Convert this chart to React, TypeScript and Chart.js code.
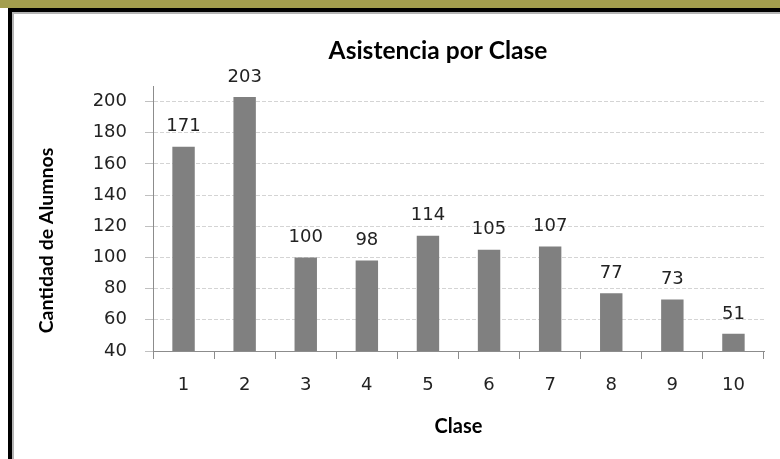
import React, { useEffect, useRef } from "react";
import { Chart, registerables } from "chart.js";

Chart.register(...registerables);

const categories = ["1", "2", "3", "4", "5", "6", "7", "8", "9", "10"];
const attendance = [171, 203, 100, 98, 114, 105, 107, 77, 73, 51];
const yMin = 40;
const yMax = 210;
const yStep = 20;
const chartTitle = "Asistencia por Clase";
const xTitle = "Clase";
const yTitle = "Cantidad de Alumnos";

const valueLabels = {
  id: "valueLabels",
  afterDatasetsDraw(chart: any) {
    const ctx = chart.ctx;
    const ds = chart.data.datasets[0];
    ctx.save();
    ctx.font = "18px 'DejaVu Sans'";
    ctx.fillStyle = "#222222";
    ctx.textAlign = "center";
    ctx.textBaseline = "middle";
    chart.getDatasetMeta(0).data.forEach((bar: any, i: number) => {
      ctx.fillText(String(ds.data[i]), bar.x, bar.y - 20);
    });
    ctx.restore();
  },
};

// Y-axis title, placed like the original (slightly below the plot's centre)
const yAxisTitle = {
  id: "yAxisTitle",
  afterDraw(chart: any) {
    const ctx = chart.ctx;
    const area = chart.chartArea;
    ctx.save();
    ctx.translate(47, area.top + (area.bottom - area.top) / 2 + 22);
    ctx.rotate(-Math.PI / 2);
    ctx.font = "bold 19.5px Lato";
    ctx.fillStyle = "#000000";
    ctx.textAlign = "center";
    ctx.textBaseline = "middle";
    ctx.fillText(yTitle, 0, 0);
    ctx.restore();
  },
};

export default function App() {
  const ref = useRef<HTMLCanvasElement | null>(null);

  useEffect(() => {
    document.body.style.margin = "0";
    const canvas = ref.current;
    if (!canvas) return;
    const chart = new Chart(canvas, {
      type: "bar",
      data: {
        labels: categories,
        datasets: [
          {
            data: attendance,
            backgroundColor: "#808080",
            borderWidth: 0,
            barPercentage: 0.367,
            categoryPercentage: 1,
          },
        ],
      },
      options: {
        responsive: false,
        animation: false,
        devicePixelRatio: 1,
        layout: { padding: { left: 14, top: 14, right: 0, bottom: 0 } },
        plugins: {
          legend: { display: false },
          tooltip: { enabled: false },
          title: {
            display: true,
            text: chartTitle,
            color: "#000000",
            font: { family: "Lato", size: 24.5, weight: "bold", lineHeight: 1.2 },
            padding: { top: 22.3, bottom: 20.3 },
          },
        },
        scales: {
          x: {
            position: "bottom",
            grid: {
              display: true,
              drawOnChartArea: false,
              drawTicks: true,
              tickLength: 8,
              tickColor: "#8c8c8c",
              offset: true,
            },
            border: { display: true, color: "#8c8c8c", width: 1 },
            ticks: {
              color: "#222222",
              font: { family: "DejaVu Sans", size: 18 },
              padding: 16,
              maxRotation: 0,
            },
            title: {
              display: true,
              text: xTitle,
              color: "#000000",
              font: { family: "Lato", size: 20, weight: "bold", lineHeight: 1.2 },
              padding: { top: 0, bottom: 20 },
            },
            afterFit(scale: any) {
              scale.height = 108;
            },
          },
          y: {
            position: "left",
            min: yMin,
            max: yMax,
            grid: {
              color: "#d4d4d4",
              drawTicks: true,
              tickLength: 8,
              tickColor: "#c0c0c0",
            },
            border: { display: true, color: "#8c8c8c", width: 1, dash: [4, 2] },
            ticks: {
              stepSize: yStep,
              includeBounds: false,
              color: "#222222",
              font: { family: "DejaVu Sans", size: 18 },
              padding: 18,
            },
            title: { display: false, text: yTitle },
            afterFit(scale: any) {
              scale.width = 139;
            },
          },
          yRight: {
            position: "right",
            display: true,
            grid: { display: false, drawTicks: false },
            border: { display: false },
            ticks: { display: false },
            afterFit(scale: any) {
              scale.width = 98;
            },
          },
        },
      } as any,
      plugins: [valueLabels, yAxisTitle],
    });
    return () => chart.destroy();
  }, []);

  return (
    <div
      style={{
        position: "fixed",
        left: 0,
        top: 0,
        width: 780,
        height: 459,
        overflow: "hidden",
        background: "#ffffff",
      }}
    >
      <canvas
        ref={ref}
        width={862}
        height={459}
        style={{ position: "absolute", left: 0, top: 0, width: 862, height: 459 }}
      />
      <div style={{ position: "absolute", left: 0, top: 0, width: 780, height: 8, background: "#a39e4e" }} />
      <div style={{ position: "absolute", left: 8, top: 8, width: 772, height: 4, background: "#000000" }} />
      <div style={{ position: "absolute", left: 8, top: 8, width: 4, height: 451, background: "#000000" }} />
      <div style={{ position: "absolute", left: 12, top: 12, width: 768, height: 2, background: "#b4b4b4" }} />
      <div style={{ position: "absolute", left: 12, top: 12, width: 2, height: 447, background: "#b4b4b4" }} />
    </div>
  );
}
